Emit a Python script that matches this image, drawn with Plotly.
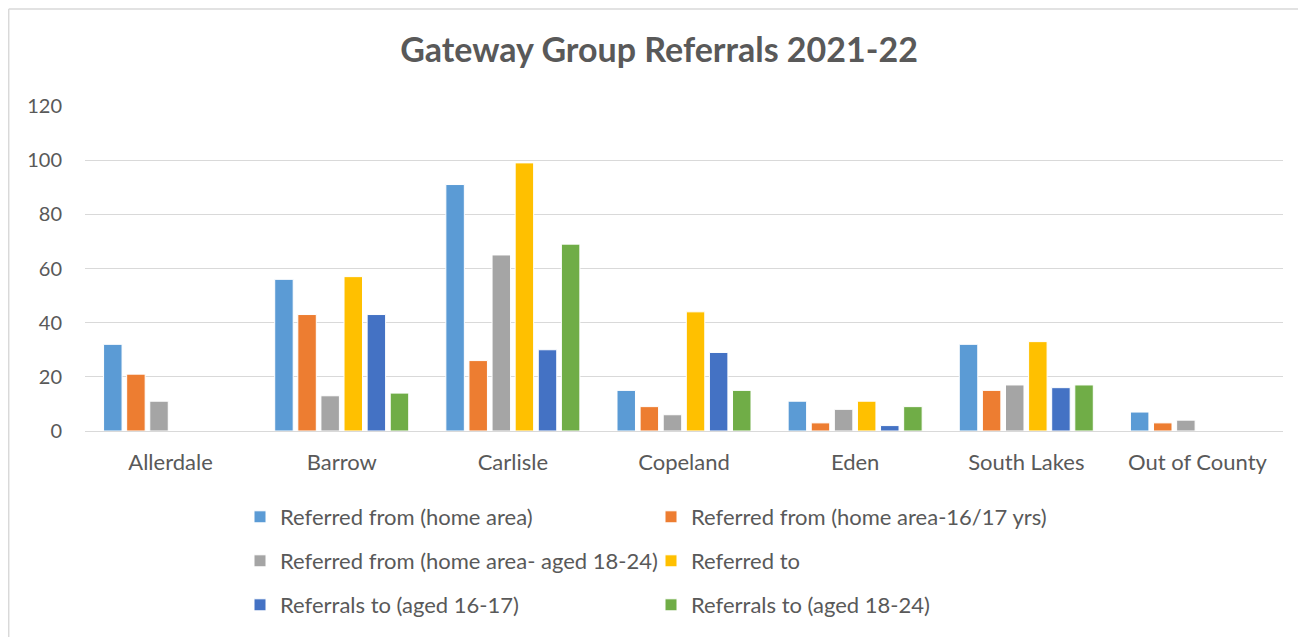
import plotly.graph_objects as go

categories = ["Allerdale", "Barrow", "Carlisle", "Copeland", "Eden", "South Lakes", "Out of County"]
series_names = [
    "Referred from (home area)",
    "Referred from (home area-16/17 yrs)",
    "Referred from (home area- aged 18-24)",
    "Referred to",
    "Referrals to (aged 16-17)",
    "Referrals to (aged 18-24)",
]
referred_from_home = [32, 56, 91, 15, 11, 32, 7]
referred_from_16_17 = [21, 43, 26, 9, 3, 15, 3]
referred_from_18_24 = [11, 13, 65, 6, 8, 17, 4]
referred_to = [None, 57, 99, 44, 11, 33, None]
referrals_to_16_17 = [None, 43, 30, 29, 2, 16, None]
referrals_to_18_24 = [None, 14, 69, 15, 9, 17, None]
y_ticks = [0, 20, 40, 60, 80, 100, 120]

colors = ["#5B9BD5", "#ED7D31", "#A5A5A5", "#FFC000", "#4472C4", "#70AD47"]
values = [referred_from_home, referred_from_16_17, referred_from_18_24,
          referred_to, referrals_to_16_17, referrals_to_18_24]
legends = ["legend", "legend", "legend2", "legend2", "legend3", "legend3"]

FONT = "Lato"
OFF = 8  # page body margin
W, H = 1306 - OFF, 637 - OFF
L, R, T, B = 85 - OFF, 23, 106 - OFF, 205
pw, ph = W - L - R, H - T - B

def px_x(p):
    return (p - OFF - L) / pw

def px_y(p):
    return (H - B - (p - OFF)) / ph

fig = go.Figure()
for name, vals, col, lg in zip(series_names, values, colors, legends):
    fig.add_trace(go.Bar(
        x=categories, y=vals, name=name, legend=lg,
        marker=dict(color=col, line=dict(color="white", width=1)),
    ))

legend_common = dict(
    orientation="h", xanchor="left", yanchor="middle",
    font=dict(family=FONT, size=22, color="#595959"),
    entrywidth=366, bgcolor="rgba(0,0,0,0)", traceorder="normal",
    itemclick=False, itemdoubleclick=False,
)
fig.update_layout(
    width=W, height=H,
    margin=dict(l=L, r=R, t=T, b=B),
    paper_bgcolor="white", plot_bgcolor="white",
    barmode="group", bargap=0.19, bargroupgap=0.2,
    title=dict(text="<b>Gateway Group Referrals 2021-22</b>", x=(659 - OFF) / W, xanchor="center",
               y=1 - (50 - OFF) / H, yanchor="middle",
               font=dict(family=FONT, size=34, color="#595959")),
    xaxis=dict(tickfont=dict(family=FONT, size=22, color="#595959"), showgrid=False,
               showline=True, linecolor="#D9D9D9", linewidth=1, ticks="", ticklabelstandoff=12),
    yaxis=dict(range=[0, 120], tickvals=y_ticks, showgrid=True, gridcolor="#D9D9D9",
               gridwidth=1, zeroline=False, ticks="",
               tickfont=dict(family=FONT, size=20, color="#595959"), ticklabelstandoff=22),
    legend=dict(x=px_x(240), y=px_y(517), **legend_common),
    legend2=dict(x=px_x(240), y=px_y(561), **legend_common),
    legend3=dict(x=px_x(240), y=px_y(605), **legend_common),
    showlegend=True,
)
fig.add_shape(type="line", xref="paper", yref="paper", x0=px_x(8.7), x1=px_x(8.7),
              y0=px_y(8.7), y1=px_y(640), line=dict(color="#D9D9D9", width=1.5))
fig.add_shape(type="line", xref="paper", yref="paper", x0=px_x(8.7), x1=px_x(1310),
              y0=px_y(8.7), y1=px_y(8.7), line=dict(color="#D9D9D9", width=1.5))

fig.write_html("out.html")
